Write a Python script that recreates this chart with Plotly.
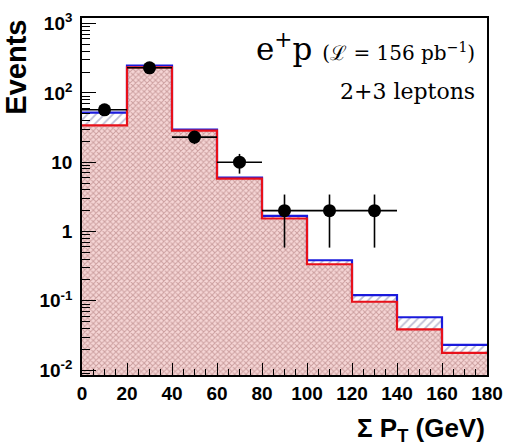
import numpy as np
import plotly.graph_objects as go

# ---- data ----
bin_edges = [0, 20, 40, 60, 80, 100, 120, 140, 160, 180]
total_mc = [52, 248, 29.5, 6.0, 1.68, 0.385, 0.121, 0.058, 0.0232]   # blue (total SM)
main_mc = [34, 233, 28.5, 5.8, 1.54, 0.337, 0.097, 0.0387, 0.0177]   # red component
data_x = [10, 30, 50, 70, 90, 110, 130]
data_y = [57, 230, 23, 10, 2, 2, 2]
data_xerr = [10, 10, 10, 10, 10, 10, 10]

y_ticks = [0.01, 0.1, 1, 10, 100, 1000]
y_ticktext = ["10<sup>-2</sup>", "10<sup>-1</sup>", "1", "10", "10<sup>2</sup>", "10<sup>3</sup>"]
x_ticks = [0, 20, 40, 60, 80, 100, 120, 140, 160, 180]


def steps(edges, vals):
    xs, ys = [], []
    for i, v in enumerate(vals):
        xs += [edges[i], edges[i + 1]]
        ys += [v, v]
    return xs, ys


xs_tot, ys_tot = steps(bin_edges, total_mc)
xs_main, ys_main = steps(bin_edges, main_mc)
floor = [1e-3] * len(xs_main)

fig = go.Figure()
# base
fig.add_trace(go.Scatter(x=xs_main, y=floor, mode="lines", line=dict(width=0),
                         showlegend=False, hoverinfo="skip"))
# red component filled with checker pattern
fig.add_trace(go.Scatter(x=xs_main, y=ys_main, mode="lines", line=dict(width=0),
                         fill="tonexty", fillcolor="rgba(0,0,0,0)",
                         fillpattern=dict(shape="x", size=4, solidity=0.45,
                                          fgcolor="#a26868", bgcolor="#f6d6d6"),
                         showlegend=False, hoverinfo="skip"))
# blue hatched band between red and total
fig.add_trace(go.Scatter(x=xs_tot, y=ys_tot, mode="lines", line=dict(color="#1a1adc", width=2.2),
                         fill="tonexty", fillcolor="rgba(0,0,0,0)",
                         fillpattern=dict(shape="/", size=6, solidity=0.3,
                                          fgcolor="#7a7aa8", bgcolor="white"),
                         showlegend=False, hoverinfo="skip"))
# red outline on top
fig.add_trace(go.Scatter(x=xs_main, y=ys_main, mode="lines", line=dict(color="#e8101a", width=2.2),
                         showlegend=False, hoverinfo="skip"))
# data
fig.add_trace(go.Scatter(x=data_x, y=data_y, mode="markers",
                         marker=dict(color="black", size=13),
                         error_x=dict(type="data", array=data_xerr, color="black", thickness=1.6, width=0),
                         error_y=dict(type="data", array=list(np.sqrt(data_y)), color="black",
                                      thickness=1.6, width=0),
                         showlegend=False))

minor_y = [m * 10.0 ** d for d in range(-3, 4) for m in range(2, 10)]
minor_y = [v for v in minor_y if 0.0085 < v < 1300]
minor_x = [v for v in range(0, 181, 5) if v % 20]

tickfont = dict(family="Liberation Sans", size=19, color="black", weight="bold")

fig.update_layout(
    width=513, height=445,
    margin=dict(l=82, r=19, t=10, b=70),
    paper_bgcolor="white", plot_bgcolor="white",
    xaxis=dict(range=[0, 180], tickmode="array", tickvals=x_ticks, ticks="inside", ticklen=12,
               tickwidth=1.3, tickcolor="black", showline=True, linecolor="black", linewidth=1.6,
               mirror=True, showgrid=False, zeroline=False, tickfont=tickfont,
               minor=dict(tickmode="array", tickvals=minor_x, ticks="inside", ticklen=6,
                          tickcolor="black", tickwidth=1.2, showgrid=False)),
    yaxis=dict(type="log", range=[-2.07, 3.08], tickmode="array", tickvals=y_ticks,
               ticktext=y_ticktext, ticks="inside", ticklen=14, tickwidth=1.3, tickcolor="black",
               showline=True, linecolor="black", linewidth=1.6, mirror=True, showgrid=False,
               zeroline=False, tickfont=tickfont, ticklabelstandoff=4,
               minor=dict(tickmode="array", tickvals=minor_y, ticks="inside", ticklen=8,
                          tickcolor="black", tickwidth=1.2, showgrid=False)),
    annotations=[
        dict(text="Events", xref="paper", yref="paper", x=-0.165, y=1.0, xanchor="center",
             yanchor="top", textangle=-90, showarrow=False,
             font=dict(family="Liberation Sans", size=29, color="black", weight="bold")),
        dict(text="Σ P<sub>T</sub> (GeV)", xref="paper", yref="paper", x=1.0, y=-0.1,
             xanchor="right", yanchor="top", showarrow=False,
             font=dict(family="Liberation Sans", size=26, color="black", weight="bold")),
        dict(text="e<sup>+</sup>p <span style='font-size:20px'>(ℒ = 156 pb<sup>−1</sup>)</span>",
             xref="paper", yref="paper", x=0.975, y=0.98, xanchor="right", yanchor="top",
             showarrow=False, font=dict(family="DejaVu Serif", size=31, color="black")),
        dict(text="2+3 leptons", xref="paper", yref="paper", x=0.975, y=0.835,
             xanchor="right", yanchor="top", showarrow=False,
             font=dict(family="DejaVu Serif", size=22, color="black")),
    ],
)

fig.write_html("out.html")
